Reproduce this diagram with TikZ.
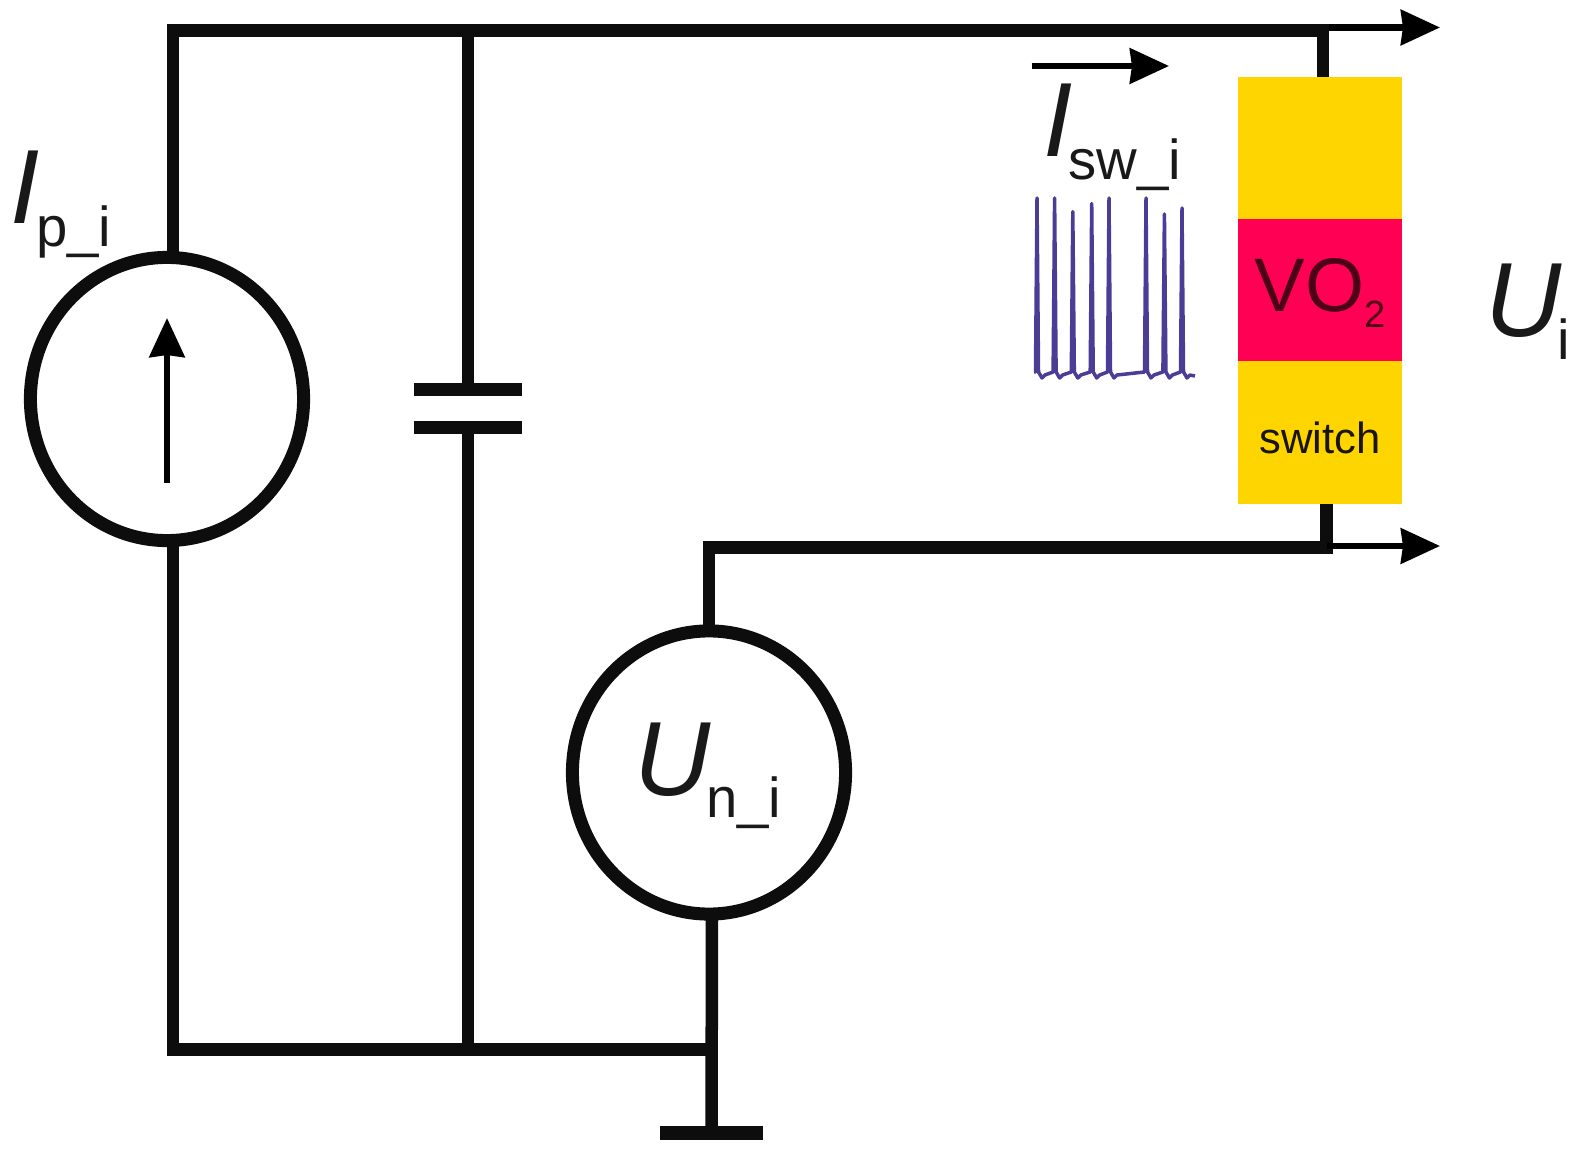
\documentclass[tikz,border=0pt]{standalone}
\usepackage{fontspec}
\setmainfont{Liberation Sans}
\usetikzlibrary{shapes.geometric, arrows.meta}
\definecolor{switchyellow}{HTML}{FFD500}
\definecolor{filmred}{HTML}{FF0055}
\definecolor{spikeblue}{HTML}{4B3C96}
\newcommand{\sublabel}[2]{{\fontsize{30pt}{30pt}\selectfont\itshape #1}\kern-0.04cm\raisebox{-0.22cm}{\fontsize{16pt}{16pt}\selectfont #2}}
\tikzstyle{wire} = [line width=0.125cm, draw=black!95]
\tikzstyle{arrow} = [line width=0.065cm, -{Stealth[length=0.39cm,width=0.35cm,inset=0.02cm]}]
\tikzstyle{source} = [ellipse, draw=black!95, line width=0.13cm, minimum width=2.73cm, minimum height=2.83cm, inner sep=0pt, outer sep=0pt]
\tikzstyle{plate} = [rectangle, fill=black!95, inner sep=0pt, outer sep=0pt, minimum width=1.08cm, minimum height=0.13cm]
\tikzstyle{layer} = [rectangle, inner sep=0pt, outer sep=0pt, minimum width=1.63cm, minimum height=1.42cm, text height=0.42cm, text depth=0cm]
\tikzstyle{symbol} = [anchor=base west, inner sep=0pt, outer sep=0pt, text=black!90]
\begin{document}
\begin{tikzpicture}[x=0.01cm, y=-0.01cm]
        \useasboundingbox (0,0) rectangle (1582,1152);
        \node (isrc) [source] at (167,399) {};
        \node (vsrc) [source] at (709,772.5) {};
        \node (capup) [plate] at (468,389.6) {};
        \node (capdn) [plate] at (468,427.7) {};
        \node (gnd) [plate, minimum width=1.03cm, minimum height=0.14cm] at (711.5,1133) {};
        \node (vohead) [layer, fill=switchyellow] at (1320,148) {};
        \node (vofilm) [layer, fill=filmred, text=black!70!filmred, font=\fontsize{21.6pt}{21.6pt}\selectfont] at (1320,290) {VO\raisebox{-0.16cm}{\fontsize{10.8pt}{10.8pt}\selectfont 2}};
        \node (voswitch) [layer, fill=switchyellow, text=black!90!switchyellow, font=\fontsize{12.4pt}{12.4pt}\selectfont] at (1320,432.5) {switch};

        \coordinate (topleft) at (173,30.6);
        \coordinate (topcap) at (468,30.6);
        \coordinate (topright) at (1323,30.6);
        \coordinate (botleft) at (173,1049.6);
        \coordinate (botcap) at (468,1049.6);
        \coordinate (botjoin) at (712,1049.6);
        \coordinate (midright) at (1326.6,547.5);
        \coordinate (midleft) at (709,547.5);
        \coordinate (toptip) at (1440,27.5);
        \coordinate (midtip) at (1440,546);
        \coordinate (toptail) at (1329,27.5);
        \coordinate (midtail) at (1326.6,546);

        \draw [wire] (isrc.north -| topleft) -- (topleft) -- (topright) -- (topright |- vohead.north);
        \draw [wire] (topcap) -- (capup);
        \draw [wire] (capdn) -- (botcap);
        \draw [wire] (isrc.south -| botleft) -- (botleft) -- (botjoin);
        \draw [wire] (vsrc.south -| botjoin) -- (gnd);
        \draw [wire] (vsrc.north) -- (midleft) -- (midright) -- (midright |- voswitch.south);
        \draw [arrow] (toptail) -- (toptip);
        \draw [arrow] (midtail) -- (midtip);

        \coordinate (itail) at (167,483);
        \coordinate (itip) at (167,318);
        \draw [arrow] (itail) -- (itip);
        \coordinate (swtail) at (1031.5,66);
        \coordinate (swtip) at (1169,66);
        \draw [arrow] (swtail) -- (swtip);

        \node (ilabel) [symbol] at (11,224) {\sublabel{I}{p\_i}};
        \node (swlabel) [symbol] at (1043,157) {\sublabel{I}{sw\_i}};
        \node (ulabel) [symbol] at (634,795) {\sublabel{U}{n\_i}};
        \node (outlabel) [symbol] at (1485,337) {\sublabel{U}{i}};

        \draw [spikeblue, line width=0.035cm, line join=round] (1034,372)
            \foreach \xs/\ys in {1037/198,1054.6/198,1072.8/211.6,1091.7/203.5,1109/198,1146/198,1164.4/214,1182/208}
            { -- (\xs-1.5,372) -- (\xs,\ys) -- (\xs+1.5,372) -- (\xs+5,378) -- (\xs+8,375) }
            -- (1195,376);
    \end{tikzpicture}
\end{document}
